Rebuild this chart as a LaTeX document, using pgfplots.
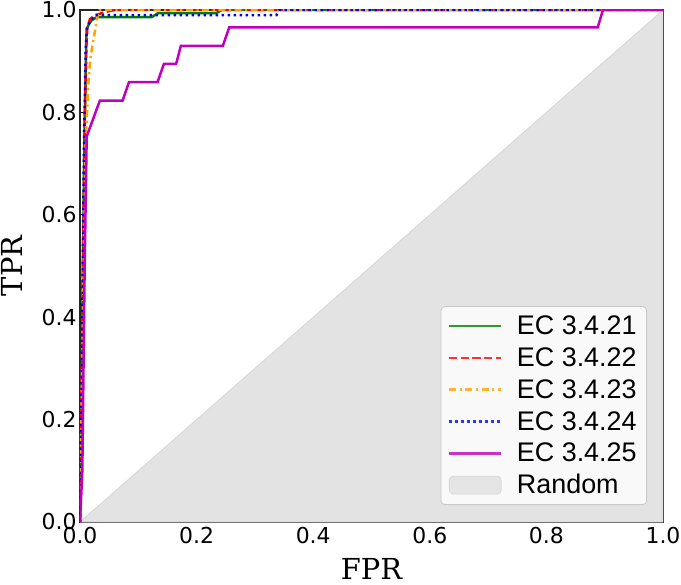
\documentclass[border=0pt]{standalone}
\usepackage{pgfplots}
\pgfplotsset{compat=1.18}
\usepackage{fontspec}
\setmainfont{DejaVu Sans}
\newfontfamily\seriffont{DejaVu Serif}
\newfontfamily\legfont{Liberation Sans}
\definecolor{mplgreen}{rgb}{0,0.5,0}
\definecolor{mplorange}{rgb}{1,0.647,0}
\definecolor{mplmag}{rgb}{0.75,0,0.75}
\begin{document}
\begin{tikzpicture}
\begin{axis}[
  at={(0,0)}, anchor=south west,
  scale only axis, width=583bp, height=512bp,
  xmin=0, xmax=1, ymin=0, ymax=1,
  axis line style={line width=1.3bp, black!85},
  tick align=inside, xtick pos=bottom, ytick pos=left,
  major tick length=4.5bp, tick style={line width=0.9bp, black},
  xtick={0,0.2,0.4,0.6,0.8,1}, xticklabels={0.0,0.2,0.4,0.6,0.8,1.0},
  ytick={0,0.2,0.4,0.6,0.8,1}, yticklabels={0.0,0.2,0.4,0.6,0.8,1.0},
  /pgf/number format/assume math mode=true,
  ticklabel style={font=\fontsize{22}{22}\selectfont},
  xticklabel style={yshift=-2bp},
  xlabel={FPR}, ylabel={TPR},
  label style={font=\seriffont\fontsize{29}{29}\selectfont},
  xlabel style={at={(axis description cs:0.5,-0.113)}, anchor=base},
  ylabel style={at={(axis description cs:-0.098,0.5)}, anchor=base},
  legend cell align=left,
  legend style={at={(axis description cs:0.9726,0.0332)}, anchor=south east,
    fill=white, fill opacity=0.8, text opacity=1, draw=black!25, draw opacity=0.8,
    rounded corners=4bp, line width=0.8bp,
    inner xsep=7bp, inner ysep=5bp, row sep=2.8bp, column sep=11.5bp,
    font=\legfont\fontsize{27}{27}\selectfont,
    nodes={inner sep=3bp, text height=20bp, text depth=3bp}},
  legend image code/.code={\draw[#1] (0bp,0bp) -- (52bp,0bp);},
]
\addplot[fill=gray!22, draw=gray!32, line width=0.8bp, forget plot] coordinates {(0,0) (1,1) (1,0) (0,0)};

\addplot[mplgreen, line width=2.5bp] coordinates {
(0,0) (0.003,0.3) (0.007,0.7) (0.0105,0.93) (0.0115,0.961) (0.015,0.972) (0.020,0.980) (0.029,0.986)
(0.123,0.986) (0.134,0.994) (0.234,0.994) (0.243,1.0) (1,1)};
\addlegendentry{EC 3.4.21}

\addplot[red, line width=2.5bp, dash pattern=on 8.1bp off 3.5bp] coordinates {
(0,0) (0.004,0.4) (0.008,0.78) (0.011,0.93) (0.0125,0.965) (0.017,0.982) (0.026,0.990) (0.05,0.998) (0.06,1) (1,1)};
\addlegendentry{EC 3.4.22}

\addplot[mplorange, line width=2.5bp, dash pattern=on 7bp off 3.5bp on 2.2bp off 3.5bp] coordinates {
(0,0) (0.005,0.4) (0.010,0.75) (0.014,0.85) (0.017,0.896) (0.020,0.922) (0.026,0.961) (0.031,0.994) (0.034,1) (1,1)};
\addlegendentry{EC 3.4.23}

\addplot[blue, line width=2.5bp, dash pattern=on 2.4bp off 3.6bp] coordinates {
(0,0) (0.003,0.3) (0.007,0.75) (0.010,0.93) (0.012,0.965) (0.014,0.971) (0.026,0.990) (0.337,0.990) (0.341,1.0) (1,1)};
\addlegendentry{EC 3.4.24}

\addplot[mplmag, line width=2.5bp] coordinates {
(0,0) (0.004,0.1) (0.008,0.5) (0.0115,0.753) (0.034,0.823) (0.073,0.823) (0.084,0.859) (0.133,0.859)
(0.144,0.895) (0.165,0.895) (0.173,0.930) (0.245,0.930) (0.256,0.966) (0.888,0.966) (0.897,1.0) (1,1)};
\addlegendentry{EC 3.4.25}

\addlegendimage{legend image code/.code={\draw[fill=gray!24, draw=gray!40, line width=0.6bp] (0bp,-9bp) rectangle (52bp,9bp);}}
\addlegendentry{Random}
\end{axis}
\pgfresetboundingbox
\path[use as bounding box] (-80bp,-63bp) rectangle (601bp,522bp);
\end{tikzpicture}
\end{document}
